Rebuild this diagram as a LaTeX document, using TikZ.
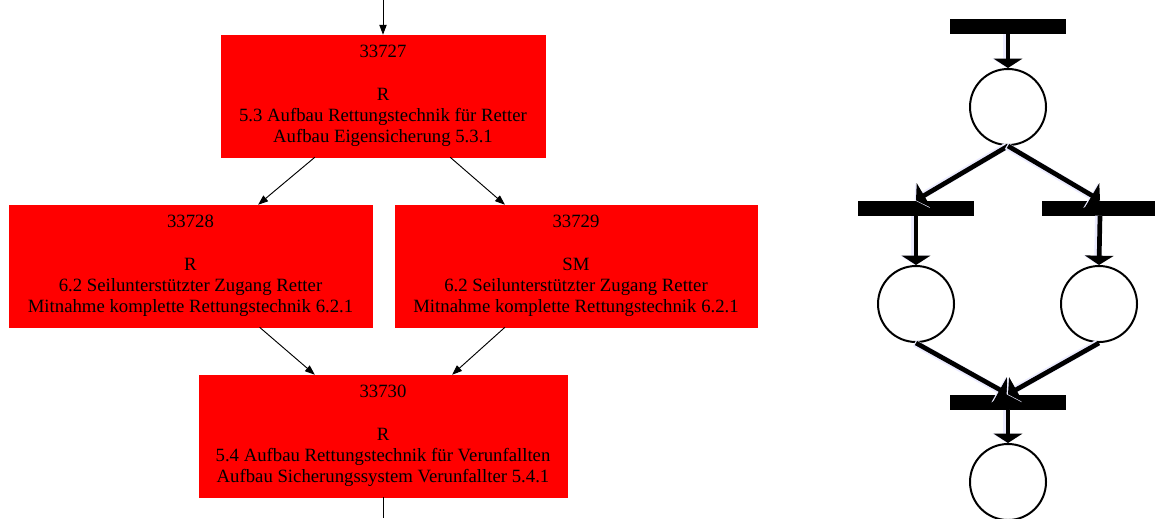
\documentclass[tikz,border=0pt]{standalone}
\usepackage{fontspec}
\setmainfont{Liberation Serif}
\usetikzlibrary{arrows.meta,calc}

\begin{document}
\begin{tikzpicture}[x=0.03cm, y=-0.03cm,
  taskbox/.style={fill=red, draw=red, rectangle, minimum height=3.66cm, inner sep=0pt, align=center, font=\fontsize{16}{18.2}\selectfont},
  flow/.style={-{Triangle[length=0.3cm,width=0.22cm]}, line width=0.8pt},
  place/.style={draw, circle, line width=1.7pt, minimum size=2.28cm, inner sep=0pt},
  trans/.style={fill=black, rectangle, minimum width=3.48cm, minimum height=0.45cm, inner sep=0pt},
  arc/.style={-{Triangle[length=0.28cm 0,width=0.85cm 0]}, line width=4pt,
    preaction={draw=blue!8, line width=6pt, transform canvas={xshift=-1.2pt}}}
]
\clip (0,0) rectangle (1155,518);

% task graph
\coordinate (in) at (383,0);
\coordinate (out) at (383,518);
\node[taskbox, minimum width=9.72cm] (n33727) at (383,96) {33727\\[18.2pt]R\\5.3 Aufbau Rettungstechnik für Retter\\Aufbau Eigensicherung 5.3.1};
\node[taskbox, minimum width=10.89cm] (n33728) at (190.5,266) {33728\\[18.2pt]R\\6.2 Seilunterstützter Zugang Retter\\Mitnahme komplette Rettungstechnik 6.2.1};
\node[taskbox, minimum width=10.86cm] (n33729) at (576,266) {33729\\[18.2pt]SM\\6.2 Seilunterstützter Zugang Retter\\Mitnahme komplette Rettungstechnik 6.2.1};
\node[taskbox, minimum width=11.04cm] (n33730) at (383,436) {33730\\[18.2pt]R\\5.4 Aufbau Rettungstechnik für Verunfallten\\Aufbau Sicherungssystem Verunfallter 5.4.1};

\draw[flow] (in) -- (n33727.north);
\draw[flow] ($(n33727.south west)!0.29!(n33727.south east)$) -- ($(n33728.north west)!0.686!(n33728.north east)$);
\draw[flow] ($(n33727.south west)!0.707!(n33727.south east)$) -- ($(n33729.north west)!0.304!(n33729.north east)$);
\draw[flow] ($(n33728.south west)!0.69!(n33728.south east)$) -- ($(n33730.north west)!0.315!(n33730.north east)$);
\draw[flow] ($(n33729.south west)!0.304!(n33729.south east)$) -- ($(n33730.north west)!0.6875!(n33730.north east)$);
\draw[line width=0.8pt] (n33730.south) -- (out);

% petri net
\node[trans] (t1) at (1008,26.5) {};
\node[place] (p1) at (1008,107) {};
\node[trans] (t2) at (916,208) {};
\node[trans] (t3) at (1100,208) {};
\node[place] (p2) at (916,304) {};
\node[place] (p3) at (1099,304) {};
\node[trans] (t4) at (1008,402) {};
\node[place] (p4) at (1008,482) {};

\draw[arc] (t1.south) -- (p1.north);
\draw[arc] (p1.south) -- (t2.north);
\draw[arc] (p1.south) -- (t3.north);
\draw[arc] (t2.south) -- (p2.north);
\draw[arc] (t3.south) -- (p3.north);
\draw[arc] (p2.south) -- (t4.north);
\draw[arc] (p3.south) -- (t4.north);
\draw[arc] (t4.south) -- (p4.north);
\end{tikzpicture}
\end{document}
